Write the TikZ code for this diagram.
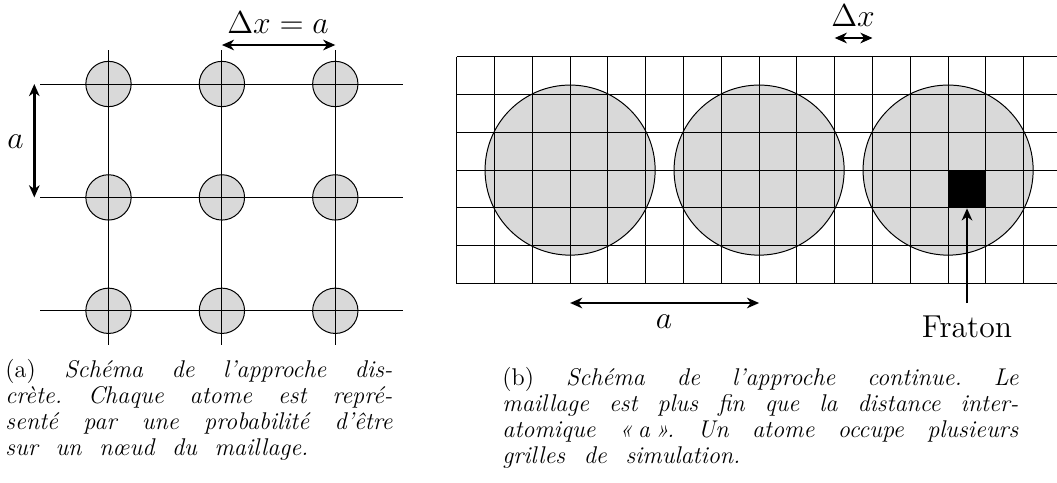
\documentclass[tikz,border=0pt]{standalone}
\usepackage{fontspec}
\usetikzlibrary{arrows.meta}
\begin{document}
\begin{tikzpicture}[x=0.4545pt,y=-0.4545pt,
  dimtip/.tip={Stealth[length=5.5pt,width=4.8pt,inset=1.7pt]},
  thinline/.style={line width=0.45pt},
  smallatom/.style={circle,draw,fill=black!15,line width=0.45pt,minimum size=20.6pt,inner sep=0pt},
  bigatom/.style={circle,draw,fill=black!15,line width=0.45pt,minimum size=77.3pt,inner sep=0pt},
  dimarrow/.style={line width=1.1pt,dimtip-dimtip},
  onearrow/.style={line width=1.1pt,-dimtip},
  lbl/.style={inner sep=0pt,font=\Large,anchor=base},
  captext/.style={inner sep=0pt,anchor=base west,font=\fontsize{11}{11.9}\selectfont}]
\useasboundingbox (0,0) rectangle (1057,482);
% ---------- left panel ----------
\foreach \i in {0,1,2}{\foreach \j in {0,1,2}{
  \node[smallatom] (s\i\j) at ({108.5+113.4*\i},{84+113.4*\j}) {};}}
\foreach \i in {0,1,2} \draw[thinline] ({108.5+113.4*\i},50) -- ({108.5+113.4*\i},345);
\foreach \j in {0,1,2} \draw[thinline] (40,{84+113.4*\j}) -- (403,{84+113.4*\j});
\coordinate (dl) at (221.9,45);
\coordinate (dr) at (335.3,45);
\draw[dimarrow] (dl) -- (dr);
\node[lbl] (dxa) at (278,33.3) {$\Delta x = a$};
\coordinate (vt) at (34.3,84);
\coordinate (vb) at (34.3,197.4);
\draw[dimarrow] (vt) -- (vb);
\node[lbl] (la) at (15.5,148) {$a$};
% ---------- right panel ----------
\node[bigatom] (b1) at (570.1,170.1) {};
\node[bigatom] (b2) at (759.1,170.1) {};
\node[bigatom] (b3) at (948.1,170.1) {};
\foreach \j in {0,...,6} \draw[thinline] (456.7,{56.7+37.8*\j}) -- (1057,{56.7+37.8*\j});
\foreach \i in {0,...,15} \draw[thinline] ({456.7+37.8*\i},56.7) -- ({456.7+37.8*\i},283.5);
\node[fill=black,minimum size=17.18pt,inner sep=0pt] (fraton) at (967,189) {};
\coordinate (xl) at (834.7,38);
\coordinate (xr) at (872.5,38);
\draw[dimarrow] (xl) -- (xr);
\node[lbl] (dx) at (853,26.5) {$\Delta x$};
\coordinate (al) at (570.1,303);
\coordinate (ar) at (759.1,303);
\draw[dimarrow] (al) -- (ar);
\node[lbl] (ra) at (664,328) {$a$};
\node[lbl] (ftxt) at (967,337) {Fraton};
\coordinate (fs) at (967,303);
\draw[onearrow] (fs) -- (fraton.south);
% ---------- captions ----------
\node[captext] (capa) at (5,377) {\parbox[t]{175.9pt}{\frenchspacing\itshape
  \hbox to\linewidth{{\upshape (a)} Schéma de l’approche dis-}
  \hbox to\linewidth{crète. Chaque atome est repré-}
  \hbox to\linewidth{senté par une probabilité d’être}
  \hbox to 137.7pt{sur un nœud du maillage.}}};
\node[captext] (capb) at (502,385) {\parbox[t]{234.5pt}{\frenchspacing\itshape
  \hbox to\linewidth{{\upshape (b)} Schéma de l’approche continue. Le}
  \hbox to\linewidth{maillage est plus fin que la distance inter-}
  \hbox to\linewidth{atomique «\kern2.5pt a\kern2.5pt». Un atome occupe plusieurs}
  \hbox to 108.2pt{grilles de simulation.}}};
\end{tikzpicture}
\end{document}
